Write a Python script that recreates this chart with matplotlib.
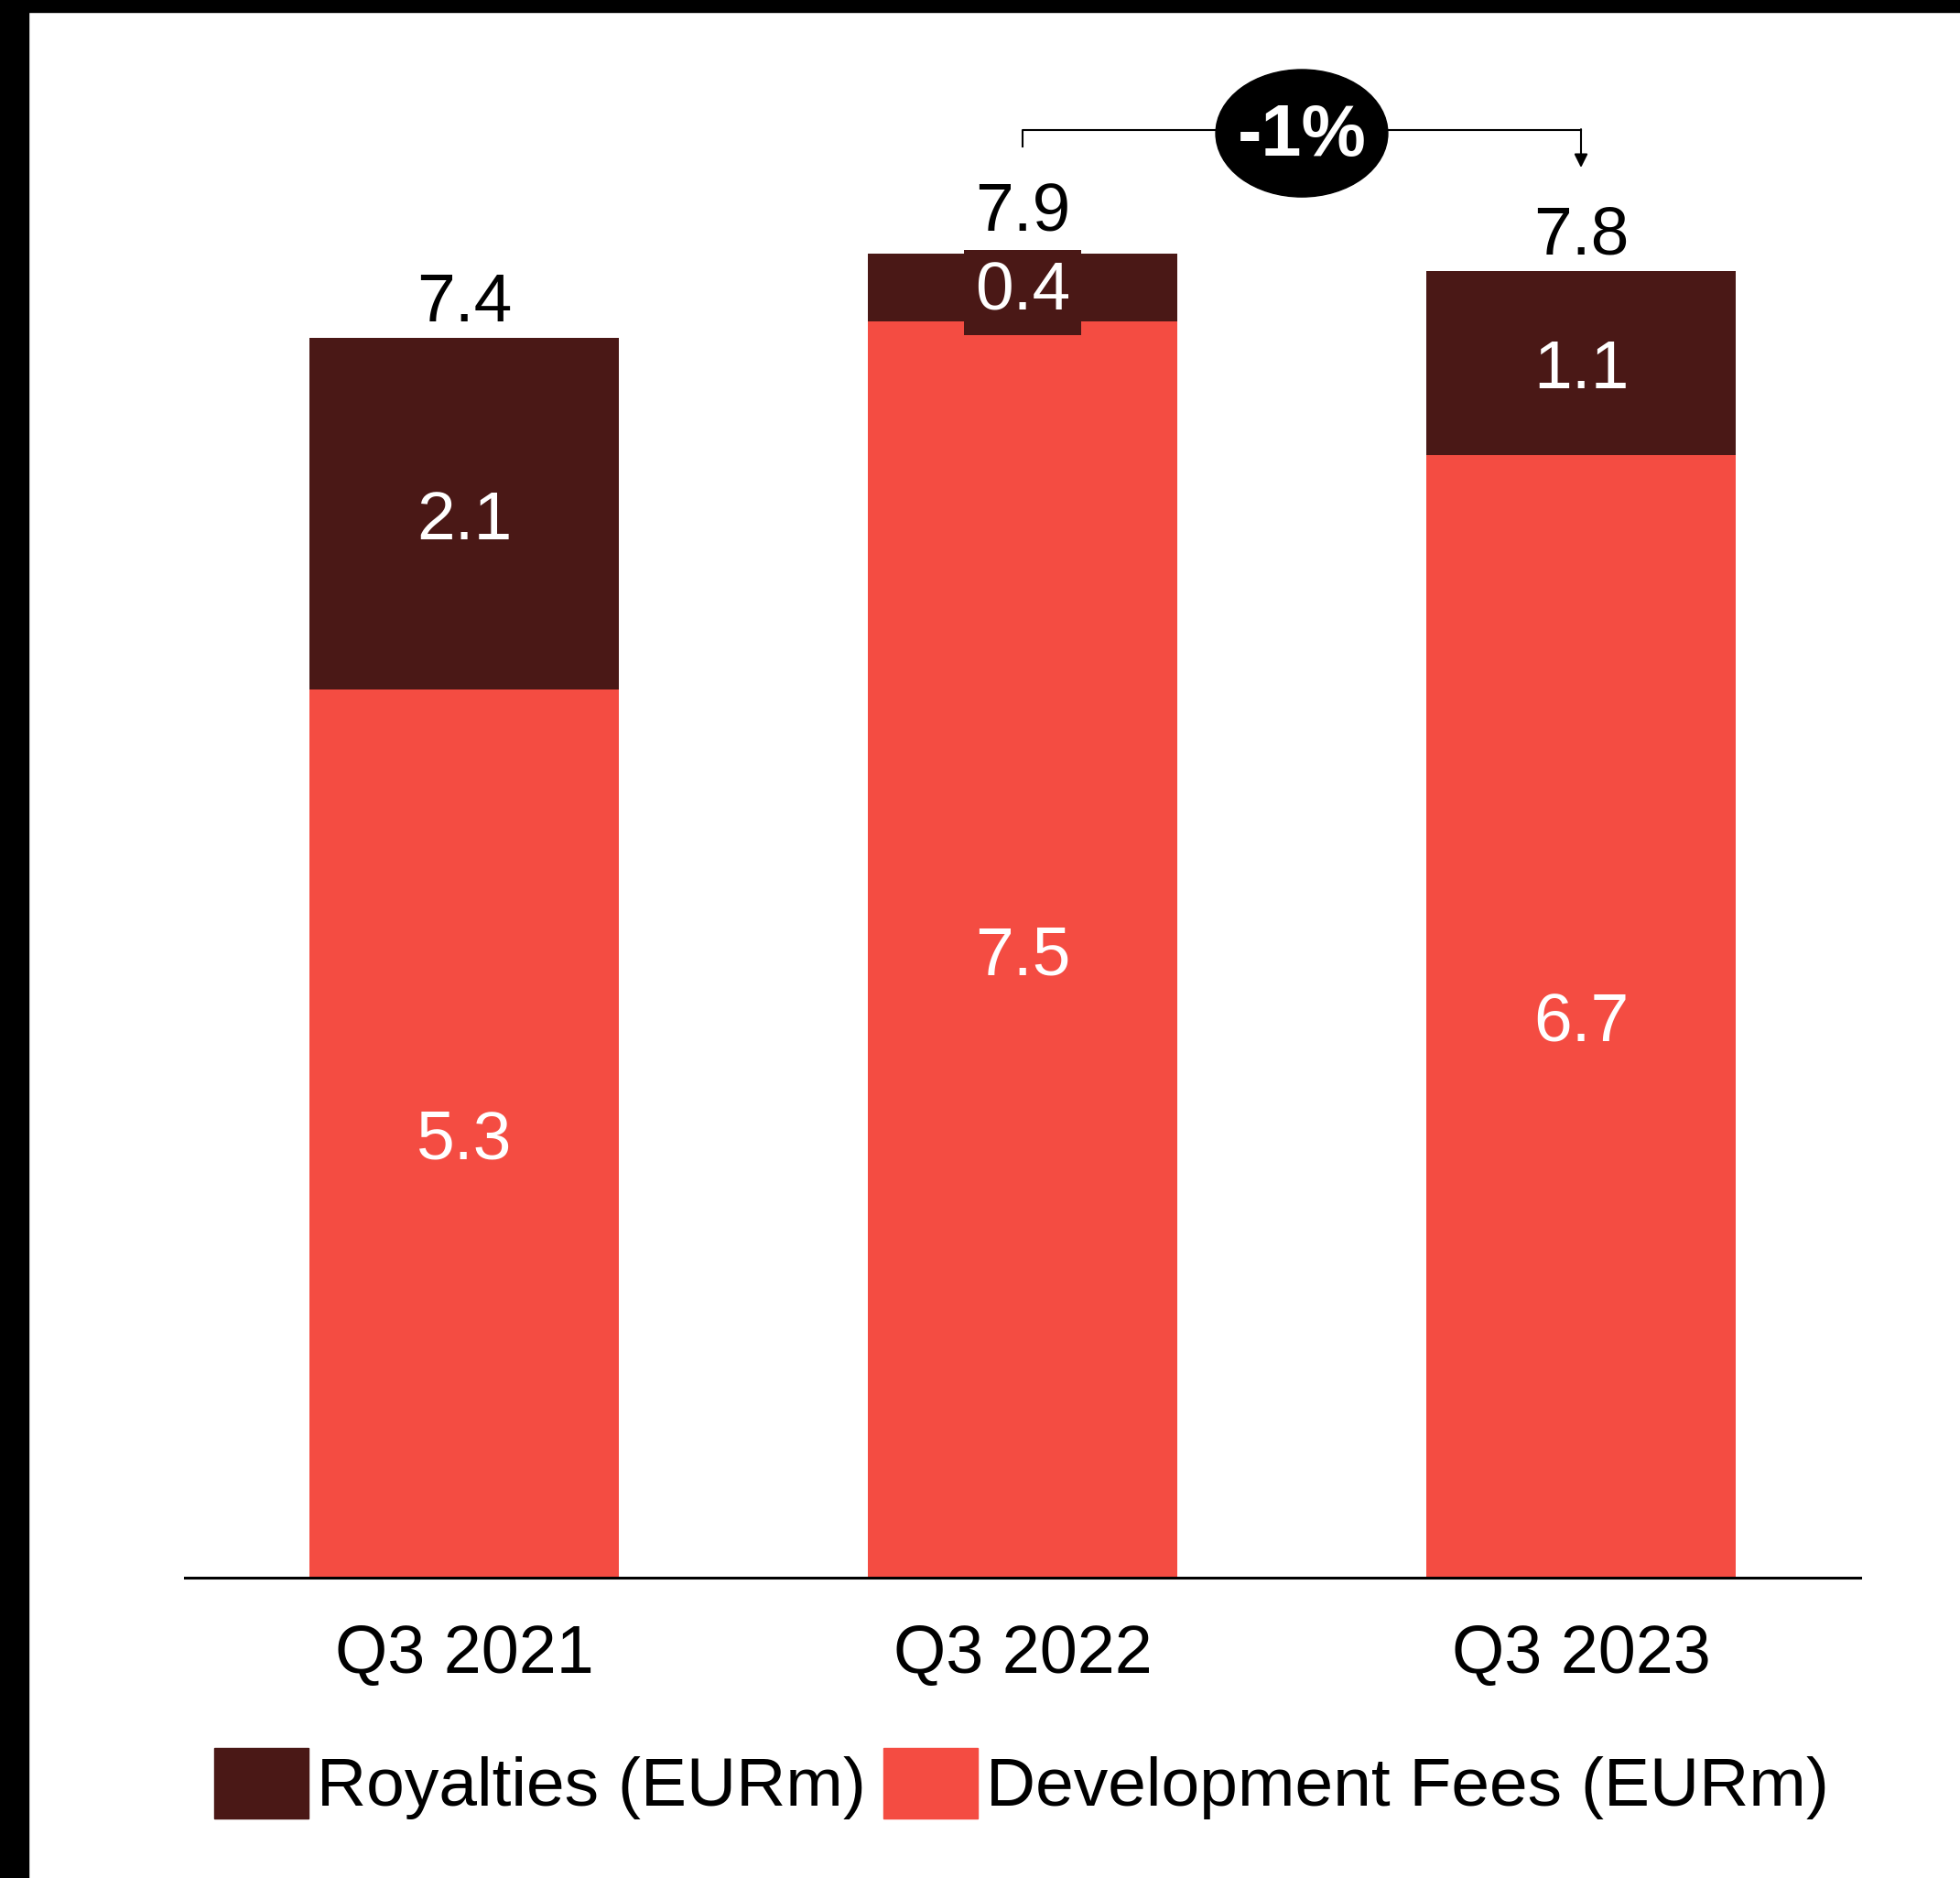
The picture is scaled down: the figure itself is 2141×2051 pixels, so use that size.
import matplotlib
matplotlib.use("Agg")
import matplotlib.pyplot as plt
from matplotlib.patches import Ellipse, Rectangle, Patch

# data
quarters = ["Q3 2021", "Q3 2022", "Q3 2023"]
dev_fees = [5.3, 7.5, 6.7]
royalties = [2.1, 0.4, 1.1]
legend_labels = ["Royalties (EURm)", "Development Fees (EURm)"]

c_roy = "#4A1816"
c_dev = "#F44C42"
fs = 54

plt.rcParams["font.family"] = ["Liberation Sans", "DejaVu Sans"]

W, H = 2141, 2051
fig = plt.figure(figsize=(W / 100, H / 100), dpi=100)
ax = fig.add_axes([202 / W, (H - 1723) / H, 1830 / W, 9.4 * 183 / H])

x = list(range(len(quarters)))
totals = [d + r for d, r in zip(dev_fees, royalties)]

ax.bar(x, dev_fees, width=0.554, color=c_dev)
ax.bar(x, royalties, width=0.554, bottom=dev_fees, color=c_roy)


def label(xv, yv, s, color, dy=-6, **kw):
    # nudge text down a little so the digits sit visually centred
    ax.annotate(s, (xv, yv), xytext=(0, dy), textcoords="offset points",
                color=color, fontsize=fs, ha="center", va="center", **kw)


# labels inside segments and totals on top
for i in x:
    label(i, dev_fees[i] / 2, f"{dev_fees[i]:.1f}", "white")
    mid = dev_fees[i] + royalties[i] / 2
    if royalties[i] < 0.5:
        # small segment: label gets its own box that sticks out of the bar
        label(i, mid, f"{royalties[i]:.1f}", "white", dy=-4,
              bbox=dict(boxstyle="square,pad=0.16", fc=c_roy, ec="none"))
        off = 0.29
    else:
        label(i, mid, f"{royalties[i]:.1f}", "white")
        off = 0.25
    label(i, totals[i] + off, f"{totals[i]:.1f}", "black")

# growth bracket between last two bars
y_br = 8.64
x0, x1 = x[1], x[2]
xm = (x0 + x1) / 2
ax.plot([x0, x0, x1], [y_br - 0.1, y_br, y_br], color="black", lw=1.5, zorder=3)
ax.annotate("", xy=(x1, y_br - 0.225), xytext=(x1, y_br + 0.004),
            arrowprops=dict(arrowstyle="-|>", color="black", lw=1.5,
                            mutation_scale=22, shrinkA=0, shrinkB=0), zorder=3)
ax.add_patch(Ellipse((xm, 8.62), 0.308, 0.76, color="black", zorder=4))
chg = (totals[2] - totals[1]) / totals[1] * 100
ax.annotate(f"{chg:.0f}%", (xm, 8.62), xytext=(0, -3), textcoords="offset points",
            color="white", fontsize=57, fontweight="bold",
            ha="center", va="center", zorder=5)

ax.set_xlim(-0.5, 2.5)
ax.set_ylim(0, 9.4)
ax.set_xticks(x)
ax.set_xticklabels(quarters, fontsize=53)
ax.tick_params(axis="x", length=0, pad=36)
ax.set_yticks([])
for s in ["top", "right", "left"]:
    ax.spines[s].set_visible(False)
ax.spines["bottom"].set_linewidth(2.2)
ax.patch.set_alpha(0)

handles = [Patch(color=c_roy), Patch(color=c_dev)]
fig.legend(handles, legend_labels, loc="center", bbox_to_anchor=(1116 / W, 1 - 1948 / H),
           ncol=2, frameon=False, fontsize=fs, handlelength=1.38, handleheight=1.2,
           handletextpad=0.12, columnspacing=0.25, borderpad=0)

# black frame edges on top and left
fig.patches.append(Rectangle((0, 1 - 13 / H), 1, 13 / H, transform=fig.transFigure,
                             color="black", zorder=10))
fig.patches.append(Rectangle((0, 0), 31 / W, 1, transform=fig.transFigure,
                             color="black", zorder=10))

fig.savefig("out.png", dpi=100)
